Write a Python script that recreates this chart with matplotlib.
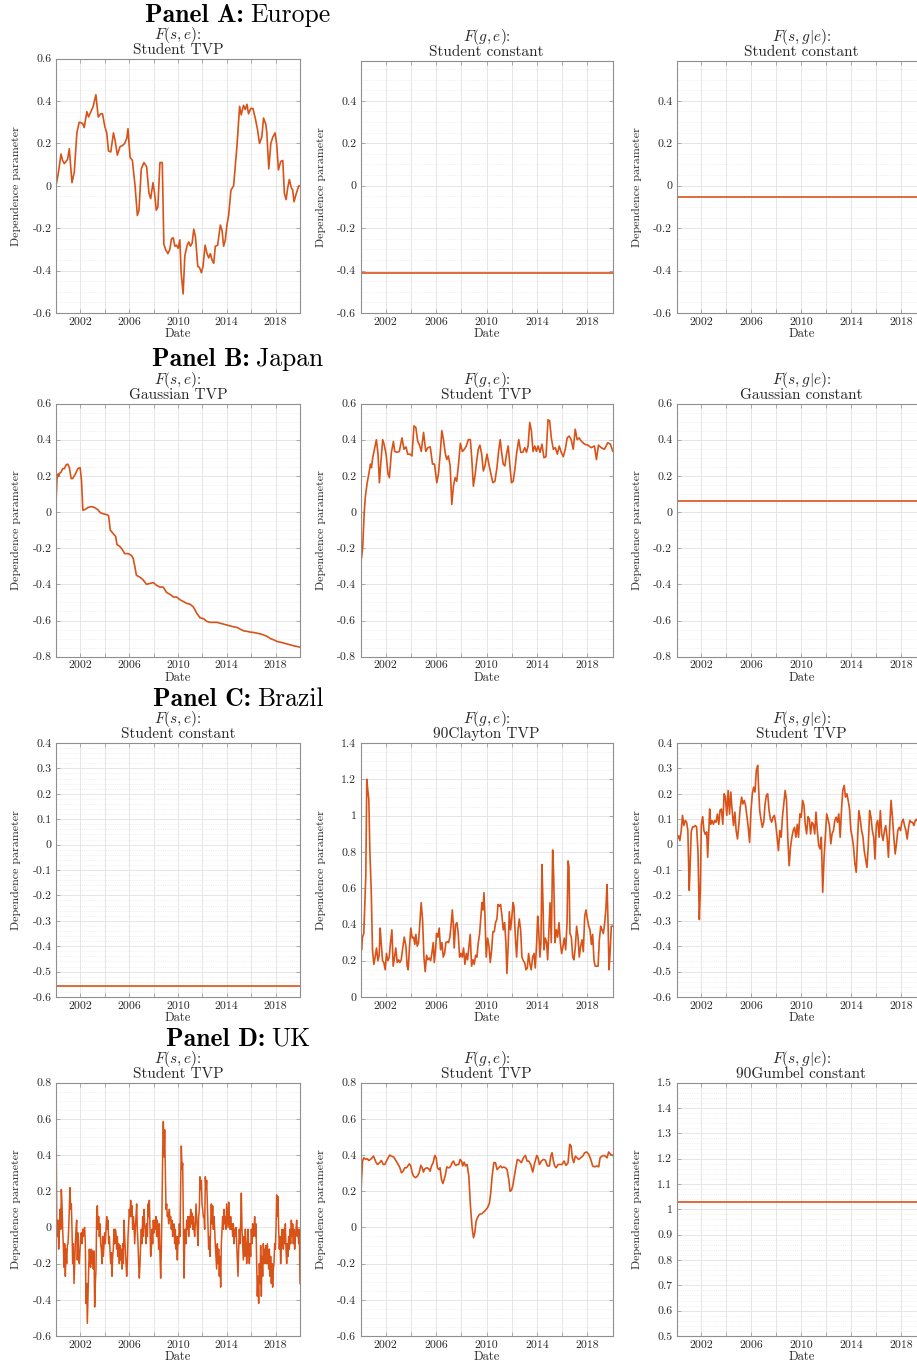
import numpy as np
import matplotlib
matplotlib.use("Agg")
import matplotlib.pyplot as plt
from matplotlib.ticker import FixedLocator, AutoMinorLocator, MultipleLocator, FuncFormatter

plt.rcParams['font.family'] = 'serif'
plt.rcParams['font.serif'] = ['cmr10']
plt.rcParams['mathtext.fontset'] = 'cm'
plt.rcParams['axes.unicode_minus'] = False
plt.rcParams['axes.formatter.use_mathtext'] = True

# ---------------- data ----------------
panel_names = ['Europe', 'Japan', 'Brazil', 'UK']
panel_letters = ['A', 'B', 'C', 'D']

# Panel A: Europe, F(s,e) Student TVP
eu_se_year = [2000.00, 2000.19, 2000.41, 2000.54, 2000.68, 2000.95, 2001.09, 2001.31, 2001.50, 2001.71,
              2001.90, 2002.18, 2002.31, 2002.53, 2002.67, 2002.86, 2003.05, 2003.27, 2003.46, 2003.67,
              2003.81, 2004.00, 2004.16, 2004.30, 2004.49, 2004.71, 2004.84, 2005.03, 2005.25, 2005.44,
              2005.63, 2005.80, 2005.90, 2006.07, 2006.26, 2006.48, 2006.67, 2006.80, 2006.99, 2007.21,
              2007.43, 2007.62, 2007.76, 2007.95, 2008.08, 2008.22, 2008.35, 2008.52, 2008.71, 2008.84,
              2008.98, 2009.17, 2009.33, 2009.47, 2009.61, 2009.74, 2009.88, 2010.01, 2010.15, 2010.26,
              2010.42, 2010.56, 2010.75, 2010.88, 2011.02, 2011.16, 2011.29, 2011.43, 2011.62, 2011.76,
              2011.92, 2012.05, 2012.22, 2012.38, 2012.52, 2012.65, 2012.82, 2012.93, 2013.06, 2013.25,
              2013.47, 2013.61, 2013.74, 2013.88, 2014.01, 2014.15, 2014.34, 2014.56, 2014.69, 2014.83,
              2015.05, 2015.18, 2015.37, 2015.51, 2015.65, 2015.78, 2015.97, 2016.14, 2016.33, 2016.52,
              2016.68, 2016.87, 2017.01, 2017.20, 2017.28, 2017.44, 2017.61, 2017.77, 2017.96, 2018.10,
              2018.23, 2018.42, 2018.59, 2018.72, 2018.86, 2018.99, 2019.13, 2019.27, 2019.40, 2019.51,
              2019.65, 2019.81, 2019.92]
eu_se_val = [0.00, 0.06, 0.15, 0.12, 0.105, 0.125, 0.175, 0.015, 0.065, 0.25,
             0.30, 0.295, 0.275, 0.35, 0.325, 0.35, 0.375, 0.43, 0.325, 0.34,
             0.34, 0.28, 0.25, 0.165, 0.16, 0.25, 0.215, 0.145, 0.185, 0.19,
             0.20, 0.225, 0.27, 0.135, 0.12, 0.00, -0.14, -0.115, 0.08, 0.11,
             0.09, -0.035, -0.06, 0.015, -0.035, -0.115, -0.10, 0.11, 0.11, -0.275,
             -0.30, -0.32, -0.30, -0.25, -0.245, -0.285, -0.28, -0.295, -0.255, -0.41,
             -0.51, -0.33, -0.28, -0.265, -0.285, -0.27, -0.205, -0.24, -0.38, -0.385,
             -0.41, -0.38, -0.28, -0.32, -0.34, -0.32, -0.355, -0.365, -0.285, -0.28,
             -0.185, -0.21, -0.285, -0.255, -0.185, -0.14, -0.02, 0.00, 0.09, 0.185,
             0.375, 0.335, 0.38, 0.36, 0.385, 0.34, 0.365, 0.365, 0.32, 0.265,
             0.20, 0.23, 0.32, 0.29, 0.25, 0.08, 0.20, 0.23, 0.25, 0.19,
             0.075, 0.115, 0.12, -0.035, -0.065, -0.01, 0.03, -0.005, -0.02, -0.075,
             -0.045, -0.015, 0.00]
eu_ge_const = -0.41      # F(g,e) Student constant
eu_sge_const = -0.055    # F(s,g|e) Student constant

# Panel B: Japan, F(s,e) Gaussian TVP
jp_se_year = [2000.00, 2000.08, 2000.16, 2000.22, 2000.30, 2000.41, 2000.55, 2000.69, 2000.82, 2000.96,
              2001.10, 2001.24, 2001.37, 2001.59, 2001.79, 2001.98, 2002.09, 2002.20, 2002.42, 2002.61,
              2002.88, 2003.16, 2003.43, 2003.65, 2003.90, 2004.18, 2004.31, 2004.45, 2004.67, 2004.89,
              2005.00, 2005.22, 2005.41, 2005.63, 2005.91, 2006.18, 2006.32, 2006.46, 2006.59, 2006.87,
              2007.14, 2007.42, 2007.69, 2007.97, 2008.24, 2008.52, 2008.79, 2009.07, 2009.34, 2009.62,
              2009.89, 2010.16, 2010.44, 2010.71, 2010.99, 2011.26, 2011.54, 2011.81, 2012.09, 2012.36,
              2012.64, 2012.91, 2013.19, 2013.46, 2013.74, 2014.01, 2014.29, 2014.56, 2014.84, 2015.11,
              2015.38, 2015.66, 2015.93, 2016.21, 2016.48, 2016.76, 2017.03, 2017.31, 2017.58, 2017.86,
              2018.13, 2018.41, 2018.68, 2018.96, 2019.23, 2019.51, 2019.78, 2020.00]
jp_se_val = [0.057, 0.18, 0.21, 0.20, 0.215, 0.22, 0.24, 0.24, 0.26, 0.265,
             0.245, 0.185, 0.185, 0.21, 0.24, 0.245, 0.175, 0.01, 0.015, 0.025,
             0.03, 0.025, 0.013, -0.005, -0.01, -0.015, -0.02, -0.10, -0.118, -0.135,
             -0.18, -0.19, -0.205, -0.23, -0.23, -0.24, -0.255, -0.30, -0.35, -0.36,
             -0.375, -0.40, -0.395, -0.39, -0.405, -0.415, -0.415, -0.445, -0.455, -0.47,
             -0.47, -0.485, -0.495, -0.505, -0.51, -0.525, -0.56, -0.585, -0.59, -0.605,
             -0.61, -0.61, -0.61, -0.615, -0.62, -0.625, -0.63, -0.635, -0.638, -0.648,
             -0.657, -0.66, -0.664, -0.666, -0.67, -0.674, -0.68, -0.688, -0.70, -0.707,
             -0.716, -0.72, -0.725, -0.73, -0.735, -0.74, -0.744, -0.747]

# Panel B: Japan, F(g,e) Student TVP
jp_ge_year = [2000.00, 2000.08, 2000.18, 2000.29, 2000.39, 2000.53, 2000.66, 2000.79, 2000.87, 2000.97,
              2001.11, 2001.26, 2001.39, 2001.50, 2001.61, 2001.76, 2001.87, 2002.03, 2002.18, 2002.29,
              2002.45, 2002.61, 2002.71, 2002.89, 2003.08, 2003.29, 2003.45, 2003.61, 2003.74, 2003.92,
              2004.08, 2004.24, 2004.39, 2004.53, 2004.68, 2004.82, 2005.00, 2005.18, 2005.34, 2005.53,
              2005.71, 2005.87, 2006.05, 2006.18, 2006.32, 2006.45, 2006.58, 2006.71, 2006.84, 2006.97,
              2007.11, 2007.24, 2007.37, 2007.50, 2007.63, 2007.76, 2007.92, 2008.08, 2008.24, 2008.39,
              2008.55, 2008.71, 2008.82, 2008.95, 2009.08, 2009.21, 2009.34, 2009.47, 2009.61, 2009.74,
              2009.87, 2010.03, 2010.18, 2010.34, 2010.50, 2010.66, 2010.82, 2010.97, 2011.08, 2011.18,
              2011.32, 2011.45, 2011.58, 2011.71, 2011.84, 2011.97, 2012.11, 2012.24, 2012.39, 2012.55,
              2012.71, 2012.87, 2013.03, 2013.16, 2013.29, 2013.42, 2013.55, 2013.68, 2013.82, 2013.95,
              2014.08, 2014.24, 2014.39, 2014.55, 2014.71, 2014.87, 2015.00, 2015.13, 2015.29, 2015.45,
              2015.61, 2015.76, 2015.92, 2016.08, 2016.24, 2016.39, 2016.55, 2016.71, 2016.87, 2017.03,
              2017.18, 2017.34, 2017.50, 2017.76, 2018.03, 2018.29, 2018.55, 2018.71, 2018.87, 2019.08,
              2019.34, 2019.61, 2019.82, 2020.00]
jp_ge_val = [-0.19, -0.255, -0.19, -0.005, 0.088, 0.162, 0.21, 0.265, 0.245, 0.30,
             0.347, 0.40, 0.32, 0.162, 0.27, 0.40, 0.375, 0.32, 0.21, 0.19,
             0.33, 0.39, 0.335, 0.33, 0.335, 0.41, 0.347, 0.36, 0.32, 0.32,
             0.31, 0.476, 0.467, 0.393, 0.37, 0.335, 0.44, 0.335, 0.356, 0.36,
             0.265, 0.265, 0.162, 0.21, 0.32, 0.45, 0.40, 0.33, 0.29, 0.31,
             0.255, 0.042, 0.143, 0.19, 0.17, 0.255, 0.38, 0.335, 0.347, 0.365,
             0.40, 0.40, 0.30, 0.143, 0.20, 0.28, 0.347, 0.37, 0.32, 0.227,
             0.255, 0.32, 0.265, 0.21, 0.162, 0.17, 0.245, 0.347, 0.40, 0.335,
             0.265, 0.255, 0.32, 0.365, 0.265, 0.162, 0.17, 0.235, 0.33, 0.40,
             0.33, 0.33, 0.356, 0.33, 0.365, 0.495, 0.45, 0.335, 0.365, 0.335,
             0.365, 0.33, 0.375, 0.30, 0.306, 0.51, 0.504, 0.41, 0.347, 0.356,
             0.32, 0.365, 0.33, 0.306, 0.347, 0.41, 0.42, 0.40, 0.347, 0.458,
             0.40, 0.41, 0.393, 0.375, 0.37, 0.356, 0.365, 0.29, 0.37, 0.356,
             0.347, 0.383, 0.375, 0.337]
jp_sge_const = 0.06      # F(s,g|e) Gaussian constant

# Panel C: Brazil
br_se_const = -0.557     # F(s,e) Student constant

# F(g,e) 90Clayton TVP
br_ge_year = [2000.00, 2000.08, 2000.16, 2000.26, 2000.34, 2000.42, 2000.50, 2000.58, 2000.66, 2000.74,
              2000.85, 2000.95, 2001.06, 2001.16, 2001.27, 2001.38, 2001.48, 2001.56, 2001.64, 2001.75,
              2001.85, 2001.96, 2002.06, 2002.17, 2002.28, 2002.38, 2002.49, 2002.59, 2002.70, 2002.80,
              2002.91, 2003.02, 2003.12, 2003.23, 2003.33, 2003.47, 2003.60, 2003.70, 2003.78, 2003.89,
              2003.99, 2004.10, 2004.21, 2004.31, 2004.39, 2004.50, 2004.60, 2004.71, 2004.81, 2004.92,
              2005.03, 2005.13, 2005.24, 2005.34, 2005.45, 2005.56, 2005.66, 2005.77, 2005.85, 2005.95,
              2006.03, 2006.14, 2006.24, 2006.35, 2006.46, 2006.56, 2006.67, 2006.77, 2006.88, 2006.98,
              2007.09, 2007.20, 2007.28, 2007.35, 2007.43, 2007.54, 2007.65, 2007.75, 2007.86, 2007.96,
              2008.07, 2008.17, 2008.28, 2008.39, 2008.49, 2008.60, 2008.70, 2008.81, 2008.92, 2009.02,
              2009.13, 2009.23, 2009.34, 2009.44, 2009.55, 2009.63, 2009.71, 2009.79, 2009.87, 2009.97,
              2010.08, 2010.19, 2010.29, 2010.40, 2010.50, 2010.61, 2010.71, 2010.82, 2010.90, 2011.01,
              2011.11, 2011.22, 2011.32, 2011.43, 2011.53, 2011.61, 2011.72, 2011.80, 2011.90, 2012.01,
              2012.09, 2012.17, 2012.28, 2012.38, 2012.49, 2012.59, 2012.70, 2012.80, 2012.91, 2013.02,
              2013.12, 2013.23, 2013.33, 2013.44, 2013.54, 2013.65, 2013.76, 2013.86, 2013.97, 2014.05,
              2014.13, 2014.23, 2014.31, 2014.39, 2014.47, 2014.55, 2014.66, 2014.76, 2014.84, 2014.92,
              2015.03, 2015.13, 2015.24, 2015.32, 2015.42, 2015.53, 2015.63, 2015.74, 2015.85, 2015.95,
              2016.06, 2016.16, 2016.27, 2016.38, 2016.46, 2016.53, 2016.61, 2016.72, 2016.83, 2016.93,
              2017.04, 2017.14, 2017.25, 2017.35, 2017.46, 2017.57, 2017.67, 2017.78, 2017.88, 2017.99,
              2018.10, 2018.20, 2018.31, 2018.41, 2018.52, 2018.62, 2018.73, 2018.84, 2018.94, 2019.05,
              2019.15, 2019.26, 2019.37, 2019.47, 2019.55, 2019.63, 2019.71, 2019.79, 2019.89, 2020.00]
br_ge_val = [0.37, 0.26, 0.33, 0.35, 0.50, 0.665, 1.20, 1.14, 1.09, 0.81,
             0.59, 0.26, 0.18, 0.22, 0.27, 0.20, 0.23, 0.38, 0.30, 0.20,
             0.19, 0.15, 0.24, 0.20, 0.22, 0.30, 0.37, 0.17, 0.22, 0.27,
             0.19, 0.205, 0.19, 0.205, 0.26, 0.33, 0.28, 0.17, 0.15, 0.28,
             0.38, 0.325, 0.33, 0.29, 0.345, 0.28, 0.30, 0.41, 0.52, 0.43,
             0.22, 0.14, 0.23, 0.205, 0.215, 0.20, 0.24, 0.30, 0.19, 0.26,
             0.35, 0.33, 0.38, 0.26, 0.30, 0.22, 0.24, 0.30, 0.305, 0.30,
             0.33, 0.41, 0.48, 0.41, 0.27, 0.40, 0.41, 0.35, 0.22, 0.24,
             0.22, 0.27, 0.18, 0.24, 0.205, 0.28, 0.345, 0.17, 0.205, 0.18,
             0.23, 0.22, 0.30, 0.345, 0.445, 0.52, 0.48, 0.575, 0.445, 0.22,
             0.325, 0.28, 0.19, 0.26, 0.36, 0.36, 0.41, 0.43, 0.51, 0.50,
             0.51, 0.445, 0.37, 0.41, 0.30, 0.13, 0.30, 0.47, 0.37, 0.445,
             0.52, 0.50, 0.33, 0.22, 0.37, 0.43, 0.37, 0.22, 0.20, 0.19,
             0.15, 0.16, 0.24, 0.18, 0.15, 0.22, 0.24, 0.16, 0.30, 0.445,
             0.37, 0.22, 0.30, 0.73, 0.52, 0.26, 0.325, 0.30, 0.205, 0.33,
             0.52, 0.30, 0.81, 0.665, 0.30, 0.37, 0.33, 0.41, 0.30, 0.24,
             0.28, 0.325, 0.26, 0.41, 0.75, 0.72, 0.35, 0.33, 0.22, 0.205,
             0.28, 0.39, 0.33, 0.22, 0.28, 0.315, 0.25, 0.445, 0.48, 0.43,
             0.39, 0.37, 0.29, 0.345, 0.20, 0.17, 0.17, 0.17, 0.315, 0.39,
             0.37, 0.35, 0.41, 0.50, 0.62, 0.41, 0.15, 0.24, 0.39, 0.39]

# F(s,g|e) Student TVP
br_sge_year = [2000.05, 2000.16, 2000.27, 2000.38, 2000.48, 2000.59, 2000.70, 2000.81, 2000.91, 2001.02,
               2001.08, 2001.18, 2001.29, 2001.40, 2001.51, 2001.61, 2001.72, 2001.83, 2001.91, 2001.99,
               2002.10, 2002.20, 2002.31, 2002.42, 2002.50, 2002.58, 2002.66, 2002.74, 2002.85, 2002.96,
               2003.06, 2003.17, 2003.28, 2003.39, 2003.49, 2003.60, 2003.71, 2003.82, 2003.92, 2004.03,
               2004.14, 2004.25, 2004.35, 2004.46, 2004.57, 2004.68, 2004.78, 2004.89, 2005.00, 2005.11,
               2005.22, 2005.32, 2005.43, 2005.54, 2005.65, 2005.75, 2005.86, 2005.97, 2006.08, 2006.18,
               2006.29, 2006.40, 2006.51, 2006.59, 2006.67, 2006.77, 2006.88, 2006.99, 2007.10, 2007.20,
               2007.31, 2007.42, 2007.53, 2007.63, 2007.74, 2007.85, 2007.96, 2008.06, 2008.17, 2008.28,
               2008.39, 2008.49, 2008.60, 2008.71, 2008.82, 2008.92, 2009.03, 2009.14, 2009.25, 2009.35,
               2009.46, 2009.57, 2009.68, 2009.78, 2009.89, 2010.00, 2010.11, 2010.22, 2010.32, 2010.43,
               2010.54, 2010.65, 2010.75, 2010.86, 2010.97, 2011.08, 2011.18, 2011.29, 2011.40, 2011.51,
               2011.61, 2011.72, 2011.83, 2011.94, 2012.04, 2012.15, 2012.26, 2012.37, 2012.47, 2012.58,
               2012.69, 2012.80, 2012.90, 2013.01, 2013.12, 2013.23, 2013.33, 2013.44, 2013.55, 2013.66,
               2013.76, 2013.87, 2013.98, 2014.09, 2014.19, 2014.30, 2014.41, 2014.52, 2014.62, 2014.73,
               2014.84, 2014.95, 2015.05, 2015.16, 2015.27, 2015.38, 2015.48, 2015.59, 2015.70, 2015.81,
               2015.91, 2016.02, 2016.13, 2016.24, 2016.34, 2016.45, 2016.56, 2016.67, 2016.77, 2016.88,
               2016.99, 2017.10, 2017.20, 2017.31, 2017.42, 2017.53, 2017.63, 2017.74, 2017.85, 2017.96,
               2018.06, 2018.17, 2018.28, 2018.39, 2018.49, 2018.60, 2018.71, 2018.82, 2018.92, 2019.03,
               2019.14, 2019.25, 2019.35, 2019.46, 2019.60, 2019.75, 2019.90, 2020.00]
br_sge_val = [0.022, 0.035, 0.016, 0.055, 0.115, 0.075, 0.095, 0.088, 0.055, -0.18,
              -0.10, 0.05, 0.07, 0.07, 0.075, 0.07, -0.025, -0.295, -0.18, 0.08,
              0.11, 0.055, 0.04, 0.05, -0.05, 0.04, 0.14, 0.08, 0.095, 0.08,
              0.095, 0.088, 0.12, 0.08, 0.135, 0.14, 0.08, 0.20, 0.187, 0.115,
              0.213, 0.12, 0.207, 0.135, 0.075, 0.128, 0.055, 0.022, 0.08, 0.147,
              0.187, 0.16, 0.174, 0.154, 0.108, 0.068, 0.009, 0.134, 0.20, 0.226,
              0.207, 0.292, 0.312, 0.213, 0.134, 0.10, 0.068, 0.088, 0.16, 0.193,
              0.20, 0.134, 0.10, 0.088, 0.108, 0.115, 0.08, 0.029, -0.024, 0.055,
              0.029, 0.108, 0.16, 0.213, 0.174, 0.029, -0.083, -0.01, 0.029, 0.055,
              0.068, 0.029, 0.08, 0.029, 0.121, 0.108, 0.174, 0.154, 0.08, 0.042,
              0.11, 0.10, 0.042, 0.088, 0.08, 0.042, 0.128, 0.055, -0.004, -0.017,
              0.029, -0.188, -0.05, 0.042, 0.121, 0.10, 0.075, 0.003, 0.042, 0.055,
              0.095, 0.108, 0.088, 0.121, 0.029, 0.14, 0.213, 0.233, 0.187, 0.20,
              0.174, 0.14, 0.055, 0.029, -0.01, -0.076, -0.109, 0.029, 0.134, 0.10,
              0.055, 0.029, -0.024, -0.057, -0.09, 0.003, 0.134, 0.108, 0.055, 0.029,
              -0.057, 0.08, 0.095, 0.029, 0.134, 0.042, 0.016, 0.055, 0.075, 0.029,
              -0.05, 0.08, 0.174, 0.108, 0.029, -0.037, 0.003, 0.055, 0.068, 0.055,
              0.088, 0.10, 0.075, 0.055, 0.022, 0.068, 0.095, 0.088, 0.088, 0.075,
              0.095, 0.10, 0.088, 0.068, 0.10, 0.06, 0.10, 0.09]

# Panel D: UK, F(s,e) Student TVP (roughly fortnightly observations, Jan 2000 - Dec 2019)
uk_se_val = [0.68, 0.06, -0.05, 0.04, -0.12, -0.03, 0.10, -0.01, 0.21, 0.13,
             -0.01, -0.10, -0.22, -0.09, -0.27, -0.12, -0.20, -0.10, -0.09, -0.01,
             0.10, 0.22, 0.10, 0.13, -0.01, -0.20, -0.09, -0.31, -0.20, -0.09,
             -0.01, 0.04, -0.18, -0.03, -0.18, -0.20, -0.12, -0.05, -0.03, -0.09,
             -0.01, -0.05, -0.01, 0.00, -0.09, -0.42, -0.31, -0.53, -0.38, -0.23,
             -0.12, -0.20, -0.22, -0.12, -0.20, -0.13, -0.23, -0.13, -0.44, -0.31,
             -0.23, 0.06, 0.12, -0.01, 0.06, -0.05, 0.02, -0.09, -0.12, -0.20,
             -0.05, -0.16, -0.09, -0.03, -0.09, -0.01, 0.06, -0.01, 0.04, -0.09,
             -0.05, -0.12, -0.20, -0.14, -0.27, -0.16, -0.12, -0.01, -0.09, -0.01,
             -0.03, -0.12, -0.05, -0.16, -0.09, -0.20, -0.10, -0.18, -0.12, -0.23,
             -0.09, -0.20, 0.04, -0.05, -0.12, -0.18, -0.27, -0.20, -0.05, 0.02,
             0.10, 0.06, 0.15, 0.06, 0.12, -0.01, 0.06, 0.02, -0.09, -0.01,
             0.06, 0.13, -0.01, -0.09, -0.20, -0.28, -0.20, -0.09, -0.01, -0.09,
             0.06, -0.05, 0.10, 0.02, -0.01, -0.09, 0.02, -0.05, 0.13, 0.06,
             0.15, -0.01, -0.16, -0.12, -0.01, -0.09, 0.04, -0.03, 0.04, -0.01,
             0.06, -0.05, 0.04, -0.01, -0.12, 0.02, -0.16, -0.28, -0.12, 0.10,
             0.41, 0.585, 0.39, 0.54, 0.32, 0.10, 0.13, 0.06, 0.08, 0.02,
             0.10, 0.04, 0.06, -0.01, 0.04, -0.05, -0.01, 0.02, -0.09, -0.01,
             -0.12, -0.05, -0.18, -0.05, -0.09, 0.02, -0.05, 0.245, 0.45, 0.32,
             0.355, 0.06, -0.28, -0.09, -0.01, -0.09, 0.04, -0.01, 0.06, -0.05,
             0.06, 0.00, 0.10, 0.02, 0.08, -0.01, 0.06, -0.01, -0.05, 0.02,
             0.13, 0.06, -0.01, -0.10, 0.06, 0.10, 0.28, 0.21, 0.26, 0.13,
             0.10, 0.06, 0.06, -0.01, 0.28, 0.21, 0.26, 0.13, -0.01, -0.12,
             -0.05, -0.16, 0.02, 0.13, 0.02, 0.12, -0.01, 0.06, -0.01, -0.10,
             -0.16, -0.23, -0.09, -0.20, -0.12, -0.27, -0.16, -0.33, -0.09, -0.01,
             0.06, -0.01, 0.10, 0.02, 0.06, -0.01, 0.13, 0.06, 0.00, 0.14,
             0.04, -0.01, 0.06, -0.01, 0.02, -0.05, 0.02, -0.09, -0.01, -0.05,
             0.00, -0.09, -0.18, -0.27, -0.12, -0.01, -0.09, 0.02, 0.19, -0.01,
             -0.09, -0.18, -0.05, -0.16, -0.01, -0.09, -0.20, -0.12, -0.01, -0.12,
             -0.20, -0.09, -0.16, -0.01, -0.09, 0.02, -0.05, -0.01, 0.06, -0.05,
             0.02, -0.20, -0.38, -0.27, -0.42, -0.20, -0.31, -0.10, -0.38, -0.16,
             -0.27, -0.09, -0.20, -0.12, -0.20, -0.10, -0.20, -0.09, -0.16, -0.23,
             -0.12, -0.27, -0.16, -0.31, -0.20, -0.33, -0.23, -0.20, -0.09, -0.12,
             -0.01, 0.18, 0.06, 0.17, -0.01, -0.12, -0.05, -0.20, -0.09, -0.01,
             -0.05, -0.12, -0.01, -0.09, 0.02, -0.12, -0.20, -0.09, -0.16, -0.05,
             -0.12, -0.01, -0.09, 0.04, -0.05, 0.02, -0.09, -0.01, -0.12, -0.05,
             -0.01, 0.04, -0.05, -0.01, -0.09, -0.01, -0.31]
uk_se_year = np.linspace(2000.0, 2020.0, len(uk_se_val))

# F(g,e) Student TVP
uk_ge_year = [2000.00, 2000.08, 2000.16, 2000.26, 2000.40, 2000.53, 2000.66, 2000.79, 2000.92, 2001.03,
              2001.14, 2001.24, 2001.37, 2001.51, 2001.66, 2001.80, 2001.93, 2002.06, 2002.19, 2002.32,
              2002.46, 2002.64, 2002.83, 2002.99, 2003.12, 2003.25, 2003.38, 2003.51, 2003.65, 2003.78,
              2003.88, 2003.99, 2004.10, 2004.20, 2004.36, 2004.52, 2004.65, 2004.78, 2004.89, 2004.99,
              2005.10, 2005.26, 2005.42, 2005.52, 2005.63, 2005.76, 2005.89, 2006.00, 2006.10, 2006.21,
              2006.31, 2006.42, 2006.53, 2006.63, 2006.74, 2006.84, 2006.95, 2007.05, 2007.16, 2007.27,
              2007.37, 2007.48, 2007.58, 2007.69, 2007.79, 2007.90, 2008.01, 2008.11, 2008.22, 2008.32,
              2008.45, 2008.59, 2008.72, 2008.85, 2008.96, 2009.06, 2009.17, 2009.27, 2009.43, 2009.64,
              2009.85, 2010.07, 2010.22, 2010.33, 2010.44, 2010.57, 2010.70, 2010.83, 2010.96, 2011.10,
              2011.23, 2011.36, 2011.49, 2011.62, 2011.76, 2011.86, 2011.97, 2012.07, 2012.18, 2012.29,
              2012.44, 2012.60, 2012.76, 2012.92, 2013.08, 2013.21, 2013.34, 2013.50, 2013.66, 2013.82,
              2013.98, 2014.08, 2014.19, 2014.35, 2014.50, 2014.66, 2014.82, 2014.98, 2015.09, 2015.19,
              2015.30, 2015.40, 2015.51, 2015.67, 2015.83, 2015.98, 2016.14, 2016.30, 2016.46, 2016.59,
              2016.70, 2016.80, 2016.91, 2017.04, 2017.17, 2017.30, 2017.46, 2017.62, 2017.78, 2017.94,
              2018.10, 2018.26, 2018.41, 2018.57, 2018.73, 2018.89, 2019.00, 2019.15, 2019.29, 2019.42,
              2019.55, 2019.68, 2019.82, 2020.00]
uk_ge_val = [0.11, 0.265, 0.367, 0.385, 0.376, 0.38, 0.37, 0.376, 0.385, 0.394,
             0.376, 0.358, 0.348, 0.358, 0.37, 0.348, 0.348, 0.367, 0.385, 0.40,
             0.394, 0.389, 0.367, 0.348, 0.33, 0.302, 0.311, 0.33, 0.33, 0.343,
             0.352, 0.34, 0.302, 0.284, 0.275, 0.284, 0.302, 0.343, 0.33, 0.306,
             0.324, 0.33, 0.324, 0.311, 0.34, 0.358, 0.398, 0.385, 0.33, 0.32,
             0.33, 0.265, 0.243, 0.265, 0.293, 0.335, 0.33, 0.33, 0.34, 0.358,
             0.367, 0.348, 0.343, 0.348, 0.348, 0.376, 0.367, 0.34, 0.361, 0.34,
             0.348, 0.284, 0.118, -0.002, -0.057, -0.03, 0.035, 0.053, 0.072, 0.077,
             0.09, 0.109, 0.133, 0.192, 0.284, 0.358, 0.358, 0.32, 0.33, 0.34,
             0.33, 0.334, 0.33, 0.32, 0.265, 0.20, 0.205, 0.228, 0.275, 0.32,
             0.376, 0.37, 0.358, 0.385, 0.398, 0.367, 0.367, 0.348, 0.306, 0.358,
             0.398, 0.385, 0.348, 0.367, 0.376, 0.372, 0.34, 0.34, 0.394, 0.413,
             0.367, 0.34, 0.33, 0.348, 0.348, 0.348, 0.367, 0.343, 0.358, 0.459,
             0.45, 0.385, 0.358, 0.394, 0.385, 0.376, 0.385, 0.394, 0.413, 0.417,
             0.404, 0.376, 0.34, 0.335, 0.34, 0.335, 0.385, 0.394, 0.398, 0.394,
             0.385, 0.417, 0.404, 0.398]
uk_sge_const = 1.03      # F(s,g|e) 90Gumbel constant

year_ticks = [2002, 2004, 2006, 2008, 2010, 2012, 2014, 2016, 2018]

# ---------------- figure ----------------
W, H = 917, 1366
LINE = '#D95319'
FRAME = '#8f8f8f'

fig = plt.figure(figsize=(W / 100, H / 100), dpi=100)

col_lr = [(56, 300), (360.5, 612.7), (676.5, 926)]
row_tb = [(58.7, 313), (403.5, 656.7), (743, 997), (1082.7, 1336)]
panel_baseline = [22, 366, 706.5, 1046]


def year_fmt(v, pos):
    y = int(round(v))
    return str(y) if (y - 2002) % 4 == 0 else ''


def val_fmt(v, pos):
    s = f"{round(v, 6):g}"
    return '0' if s == '-0' else s


def make_ax(row, col, title, ylim, step, minor_n, top=None):
    l, r = col_lr[col]
    t, b = row_tb[row]
    if top is not None:
        t = top
    ax = fig.add_axes([l / W, 1 - b / H, (r - l) / W, (b - t) / H])
    ax.set_xlim(2000, 2020)
    ax.set_ylim(*ylim)
    ax.xaxis.set_major_locator(FixedLocator(year_ticks))
    ax.xaxis.set_major_formatter(FuncFormatter(year_fmt))
    ax.yaxis.set_major_locator(MultipleLocator(step))
    ax.yaxis.set_minor_locator(AutoMinorLocator(minor_n))
    ax.yaxis.set_major_formatter(FuncFormatter(val_fmt))
    ax.set_axisbelow(True)
    ax.grid(which='major', color='#e2e2e2', lw=0.6)
    ax.grid(which='minor', axis='y', color='#e4e4e4', lw=0.5, ls=':')
    ax.tick_params(which='major', direction='in', length=3, width=0.5, top=True, right=True,
                   color=FRAME, labelsize=8.5, labelcolor='#262626', pad=3)
    ax.tick_params(which='minor', length=0)
    for s in ax.spines.values():
        s.set_color(FRAME)
        s.set_linewidth(0.8)
    ax.set_xlabel('Date', fontsize=9, color='#262626', labelpad=1)
    ax.set_ylabel('Dependence parameter', fontsize=8.6, color='#262626')
    ax.yaxis.set_label_coords(-35 / (r - l), 0.5)
    ax.set_title(title, fontsize=11, pad=3.5, linespacing=0.82, color='#262626')
    return ax


# panel headings: bold "Panel X:" followed by regular country name, centred as a whole
renderer = fig.canvas.get_renderer()
for i in range(4):
    yb = 1 - panel_baseline[i] / H
    t1 = fig.text(0, yb, "Panel " + panel_letters[i] + ":", family='cmb10',
                  fontsize=18.5, ha='left', va='baseline')
    t2 = fig.text(0, yb, panel_names[i], family='cmr10',
                  fontsize=18.5, ha='left', va='baseline')
    w1 = t1.get_window_extent(renderer).width
    w2 = t2.get_window_extent(renderer).width
    gap = 6.5
    x0 = 238 - (w1 + gap + w2) / 2
    t1.set_x(x0 / W)
    t2.set_x((x0 + w1 + gap) / W)

# Panel A: Europe
ax = make_ax(0, 0, "$F(s,e)$:\nStudent TVP", (-0.6, 0.6), 0.2, 4)
ax.plot(eu_se_year, eu_se_val, color=LINE, lw=1.2)
ax = make_ax(0, 1, "$F(g,e)$:\nStudent constant", (-0.6, 0.59), 0.2, 4, top=60.5)
ax.axhline(eu_ge_const, color=LINE, lw=1.2)
ax = make_ax(0, 2, "$F(s,g|e)$:\nStudent constant", (-0.6, 0.59), 0.2, 4, top=60.5)
ax.axhline(eu_sge_const, color=LINE, lw=1.2)

# Panel B: Japan
ax = make_ax(1, 0, "$F(s,e)$:\nGaussian TVP", (-0.8, 0.6), 0.2, 4)
ax.plot(jp_se_year, jp_se_val, color=LINE, lw=1.2)
ax = make_ax(1, 1, "$F(g,e)$:\nStudent TVP", (-0.8, 0.6), 0.2, 4)
ax.plot(jp_ge_year, jp_ge_val, color=LINE, lw=1.2)
ax = make_ax(1, 2, "$F(s,g|e)$:\nGaussian constant", (-0.8, 0.6), 0.2, 4)
ax.axhline(jp_sge_const, color=LINE, lw=1.2)

# Panel C: Brazil
ax = make_ax(2, 0, "$F(s,e)$:\nStudent constant", (-0.6, 0.4), 0.1, 5)
ax.axhline(br_se_const, color=LINE, lw=1.2)
ax = make_ax(2, 1, "$F(g,e)$:\n90Clayton TVP", (0, 1.4), 0.2, 4)
ax.plot(br_ge_year, br_ge_val, color=LINE, lw=1.2)
ax = make_ax(2, 2, "$F(s,g|e)$:\nStudent TVP", (-0.6, 0.4), 0.1, 5)
ax.plot(br_sge_year, br_sge_val, color=LINE, lw=1.2)

# Panel D: UK
ax = make_ax(3, 0, "$F(s,e)$:\nStudent TVP", (-0.6, 0.8), 0.2, 4)
ax.plot(uk_se_year, uk_se_val, color=LINE, lw=1.1)
ax = make_ax(3, 1, "$F(g,e)$:\nStudent TVP", (-0.6, 0.8), 0.2, 4)
ax.plot(uk_ge_year, uk_ge_val, color=LINE, lw=1.2)
ax = make_ax(3, 2, "$F(s,g|e)$:\n90Gumbel constant", (0.5, 1.5), 0.1, 5)
ax.axhline(uk_sge_const, color=LINE, lw=1.2)

fig.savefig('out.png', dpi=100)
